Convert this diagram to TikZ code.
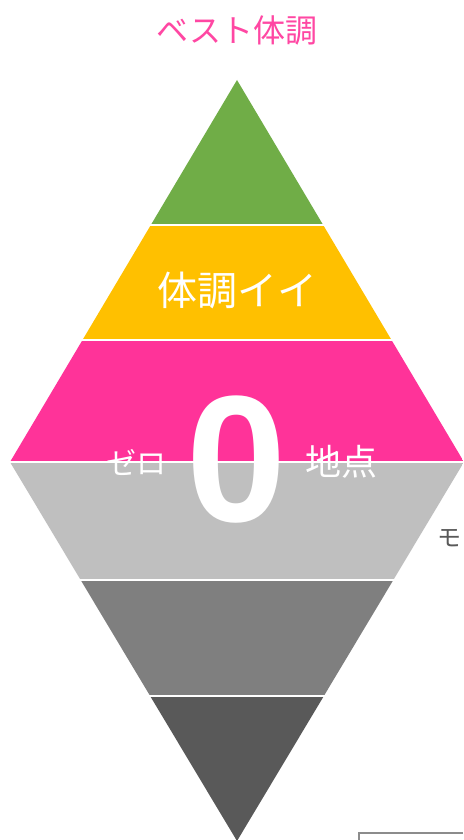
\documentclass[tikz,border=0pt]{standalone}
\usepackage{fontspec}
\newfontfamily\jp{Noto Sans CJK JP}
\newfontfamily\zerofont{Liberation Sans}
\definecolor{cgreen}{HTML}{70AD47}
\definecolor{cyellow}{HTML}{FFC000}
\definecolor{cpink}{HTML}{FF3399}
\definecolor{ctitle}{HTML}{FF47A3}
\definecolor{clight}{HTML}{BFBFBF}
\definecolor{cmid}{HTML}{7F7F7F}
\definecolor{cdark}{HTML}{595959}
\definecolor{cframe}{HTML}{8C8C8C}
\tikzset{
  wtext/.style={text=white, inner sep=0pt, font=\jp\fontsize{34}{34}\selectfont},
}
\begin{document}
\begin{tikzpicture}[x=1pt,y=-1pt]
\useasboundingbox (0,0) rectangle (463,840);
\fill[white] (0,0) rectangle (463,840);
\begin{scope}
  \clip (237,80) -- (464,462) -- (237,841) -- (10,462) -- cycle;
  \fill[cgreen]  (0,70)  rectangle (463,224);
  \fill[cyellow] (0,226) rectangle (463,339);
  \fill[cpink]   (0,341) rectangle (463,460.5);
  \fill[clight]  (0,463) rectangle (463,579);
  \fill[cmid]    (0,581) rectangle (463,695);
  \fill[cdark]   (0,697) rectangle (463,845);
\end{scope}
\node[text=ctitle, inner sep=0pt, font=\jp\fontsize{32}{32}\selectfont] (title) at (237,30) {ベスト体調};
\node[wtext, font=\jp\fontsize{40}{40}\selectfont] (good) at (237,290) {体調イイ};
\node[text=white, inner sep=0pt, anchor=base, font=\zerofont\bfseries\fontsize{180}{180}\selectfont] (zero) at (237,521) {0};
\node[wtext, font=\jp\fontsize{30}{30}\selectfont] (zeroL) at (136,462) {ゼロ};
\node[wtext, font=\jp\fontsize{36}{36}\selectfont] (zeroR) at (341,462) {地点};
\node[text=cdark, inner sep=0pt, anchor=west, font=\jp\fontsize{24}{24}\selectfont] (mo) at (437,538) {モ};
\coordinate (fa) at (463,833);
\coordinate (fb) at (359,833);
\coordinate (fc) at (359,842);
\draw[cframe, line width=2.5pt] (fa) -- (fb) -- (fc);
\end{tikzpicture}
\end{document}
